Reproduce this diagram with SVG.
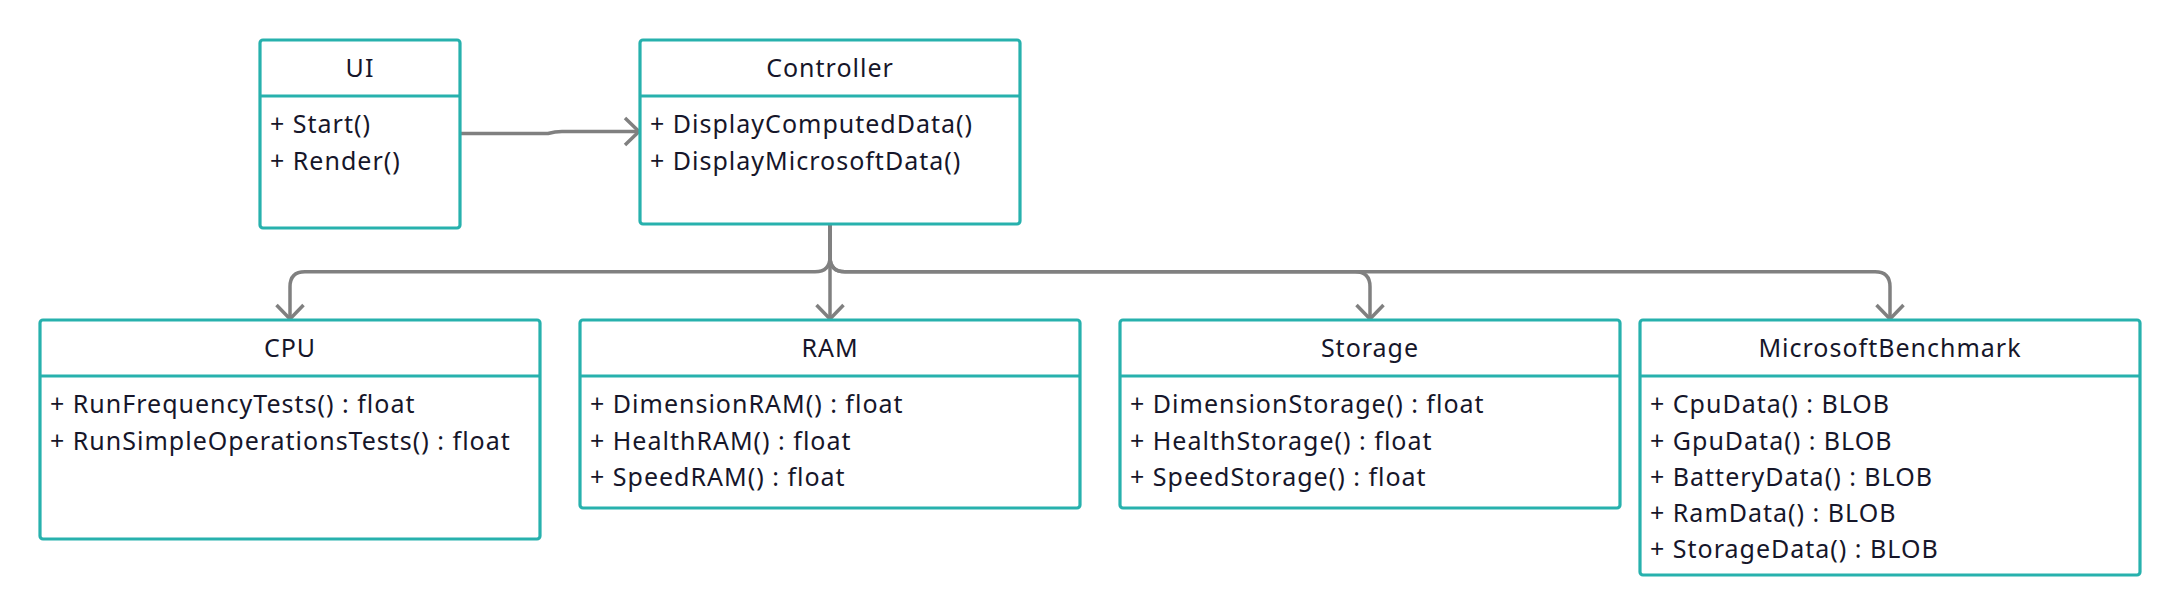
<svg xmlns="http://www.w3.org/2000/svg" width="2180" height="616" viewBox="0 0 2180 616">
<style>
.box{fill:#ffffff;stroke:#27b1ad;stroke-width:3.2}
.div{stroke:#27b1ad;stroke-width:3.2}
.t{font-family:"Noto Sans","Open Sans","DejaVu Sans",sans-serif;font-size:25px;letter-spacing:1px;fill:#16162a}
.c{text-anchor:middle}
.conn{fill:none;stroke:#808080;stroke-width:3.5}
</style>
<defs>
<marker id="arr" viewBox="-18 -18 36 36" refX="0" refY="0" markerWidth="36" markerHeight="36" markerUnits="userSpaceOnUse" orient="auto" overflow="visible">
<path d="M-14,-13.5 L0,0 L-14,13.5" fill="none" stroke="#808080" stroke-width="3.5"/>
</marker>
</defs>
<rect width="2180" height="616" fill="#ffffff"/>
<g id="connectors">
<path class="conn" d="M460,133.5 H548 Q555,131.5 562,131.5 H639" marker-end="url(#arr)"/>
<path class="conn" d="M830,224 V256.7 Q830,271.7 815,271.7 H305 Q290,271.7 290,286.7 V319" marker-end="url(#arr)"/>
<path class="conn" d="M830,224 V319" marker-end="url(#arr)"/>
<path class="conn" d="M830,224 V256.7 Q830,271.7 845,271.7 H1355 Q1370,271.7 1370,286.7 V319" marker-end="url(#arr)"/>
<path class="conn" d="M830,224 V256.7 Q830,271.7 845,271.7 H1875 Q1890,271.7 1890,286.7 V319" marker-end="url(#arr)"/>
</g>
<g id="UI">
<rect class="box" x="260" y="40" width="200" height="188" rx="3"/>
<line class="div" x1="260" y1="96" x2="460" y2="96"/>
<text class="t c" x="360" y="77">UI</text>
<text class="t" x="270" y="133">+ Start()</text>
<text class="t" x="270" y="169.5">+ Render()</text>
</g>
<g id="Controller">
<rect class="box" x="640" y="40" width="380" height="184" rx="3"/>
<line class="div" x1="640" y1="96" x2="1020" y2="96"/>
<text class="t c" x="830" y="77">Controller</text>
<text class="t" x="650" y="133">+ DisplayComputedData()</text>
<text class="t" x="650" y="169.5">+ DisplayMicrosoftData()</text>
</g>
<g id="CPU">
<rect class="box" x="40" y="320" width="500" height="219" rx="3"/>
<line class="div" x1="40" y1="376" x2="540" y2="376"/>
<text class="t c" x="290" y="357">CPU</text>
<text class="t" x="50" y="413">+ RunFrequencyTests() : float</text>
<text class="t" x="50" y="449.5">+ RunSimpleOperationsTests() : float</text>
</g>
<g id="RAM">
<rect class="box" x="580" y="320" width="500" height="188" rx="3"/>
<line class="div" x1="580" y1="376" x2="1080" y2="376"/>
<text class="t c" x="830" y="357">RAM</text>
<text class="t" x="590" y="413">+ DimensionRAM() : float</text>
<text class="t" x="590" y="449.5">+ HealthRAM() : float</text>
<text class="t" x="590" y="486">+ SpeedRAM() : float</text>
</g>
<g id="Storage">
<rect class="box" x="1120" y="320" width="500" height="188" rx="3"/>
<line class="div" x1="1120" y1="376" x2="1620" y2="376"/>
<text class="t c" x="1370" y="357">Storage</text>
<text class="t" x="1130" y="413">+ DimensionStorage() : float</text>
<text class="t" x="1130" y="449.5">+ HealthStorage() : float</text>
<text class="t" x="1130" y="486">+ SpeedStorage() : float</text>
</g>
<g id="MicrosoftBenchmark">
<rect class="box" x="1640" y="320" width="500" height="255" rx="3"/>
<line class="div" x1="1640" y1="376" x2="2140" y2="376"/>
<text class="t c" x="1890" y="357">MicrosoftBenchmark</text>
<text class="t" x="1650" y="413">+ CpuData() : BLOB</text>
<text class="t" x="1650" y="449.5">+ GpuData() : BLOB</text>
<text class="t" x="1650" y="486">+ BatteryData() : BLOB</text>
<text class="t" x="1650" y="522">+ RamData() : BLOB</text>
<text class="t" x="1650" y="558">+ StorageData() : BLOB</text>
</g>
</svg>
